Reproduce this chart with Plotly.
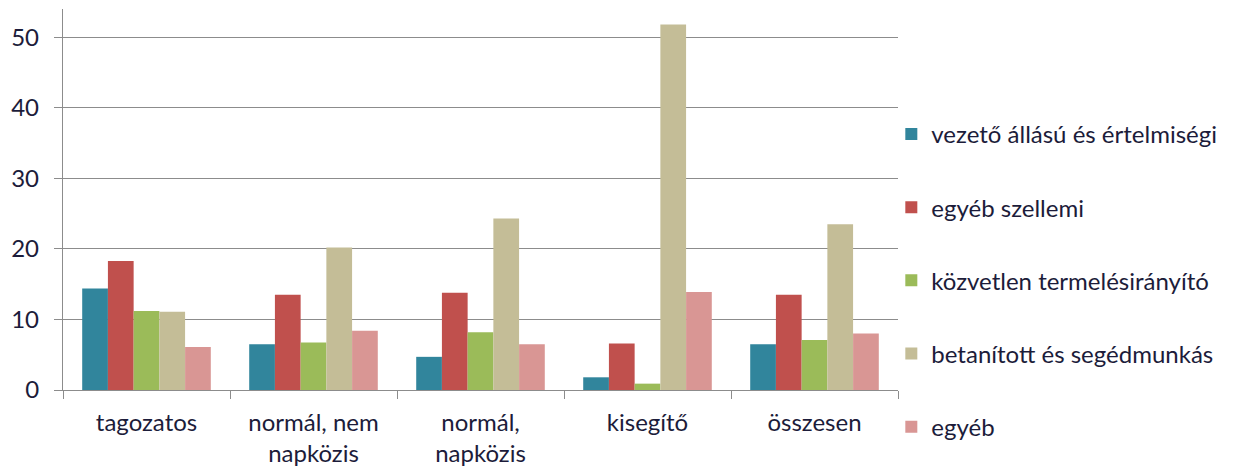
import plotly.graph_objects as go

categories = ["tagozatos", "normál, nem<br>napközis", "normál,<br>napközis", "kisegítő", "összesen"]
series_names = [
    "vezető állású és értelmiségi",
    "egyéb szellemi",
    "közvetlen termelésirányító",
    "betanított és segédmunkás",
    "egyéb",
]
vezeto = [14.4, 6.5, 4.7, 1.8, 6.5]
szellemi = [18.3, 13.5, 13.8, 6.6, 13.5]
termelesiranyito = [11.2, 6.75, 8.2, 0.9, 7.1]
betanitott = [11.1, 20.2, 24.3, 51.8, 23.5]
egyeb = [6.1, 8.4, 6.5, 13.9, 8.0]
y_ticks = [0, 10, 20, 30, 40, 50]

colors = ["#31859C", "#C0504D", "#9BBB59", "#C4BD97", "#D99694"]
values = [vezeto, szellemi, termelesiranyito, betanitott, egyeb]

FONT = "Lato, 'Open Sans', sans-serif"
TXT = "#1c1c3a"
GRID = "#8c8c8c"
FS = 24

fig = go.Figure()
for i, (name, vals, col) in enumerate(zip(series_names, values, colors)):
    fig.add_trace(go.Bar(
        x=categories, y=vals, name=name,
        marker=dict(color=col, line=dict(width=0)),
        legendgroup=f"g{i}",
    ))

fig.update_layout(
    width=1234, height=470,
    margin=dict(l=63, r=336, t=9, b=80),
    paper_bgcolor="white", plot_bgcolor="white",
    barmode="group", bargap=0.23, bargroupgap=0,
    font=dict(family=FONT, size=FS, color=TXT),
    showlegend=True,
    legend=dict(
        x=0.992, xanchor="left", y=0.73, yanchor="top",
        font=dict(family=FONT, size=FS, color=TXT),
        tracegroupgap=39, itemwidth=30,
        bgcolor="rgba(0,0,0,0)",
        maxheight=1.0,
    ),
    xaxis=dict(
        showline=True, linecolor=GRID, linewidth=1.3,
        ticks="outside", ticklen=8, tickcolor=GRID, tickwidth=1.3,
        tickson="boundaries", showgrid=False, automargin=False,
        tickfont=dict(family=FONT, size=FS, color=TXT),
        ticklabelstandoff=11,
    ),
    yaxis=dict(
        range=[0, 54], tickvals=y_ticks,
        showline=True, linecolor=GRID, linewidth=1.3,
        ticks="outside", ticklen=8, tickcolor=GRID, tickwidth=1.3,
        showgrid=True, gridcolor=GRID, gridwidth=1.3,
        zeroline=False, automargin=False,
        tickfont=dict(family=FONT, size=FS, color=TXT),
        ticklabelstandoff=10,
    ),
)

fig.write_html(
    "out.html",
    config={"displayModeBar": False},
    post_script="document.body.style.margin='0';",
)
